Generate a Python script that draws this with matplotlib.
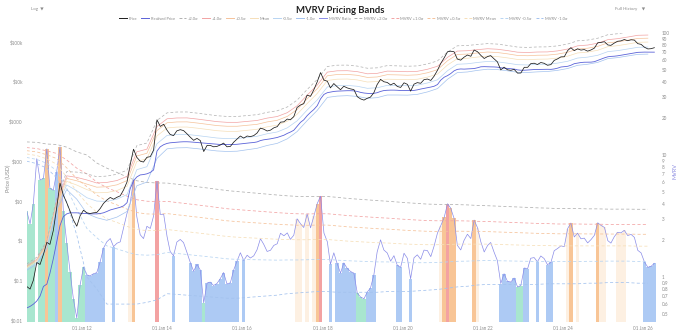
import numpy as np
import pandas as pd
import matplotlib
matplotlib.use('Agg')
import matplotlib.pyplot as plt
from matplotlib.lines import Line2D

plt.rcParams['font.family'] = ['Lato', 'DejaVu Sans']

""" Monthly series, Aug 2010 - Apr 2026 """

dates = pd.date_range('2010-08-01', periods=189, freq='MS') + pd.Timedelta(days=14)

price = [0.07, 0.06, 0.10, 0.28, 0.25,
         0.45, 0.9, 0.8, 1.8, 6.5, 28, 14, 9, 5.5, 3.3, 2.3, 4.2,
         5.8, 5.0, 4.8, 5.0, 5.1, 6.4, 8.6, 10.5, 12.2, 11.0, 12.3, 13.4,
         19, 30, 80, 200, 125, 100, 95, 125, 130, 190, 1100, 750,
         850, 600, 470, 440, 580, 620, 590, 490, 400, 335, 375, 330,
         175, 250, 250, 230, 235, 255, 285, 230, 235, 300, 360, 430,
         380, 430, 415, 440, 510, 680, 640, 575, 605, 690, 740, 960,
         980, 1150, 1100, 1320, 2250, 2600, 2800, 4600, 4300, 6300, 10000, 17000,
         11000, 10300, 7000, 9000, 7500, 6300, 7700, 7000, 6600, 6350, 4200, 3700,
         3450, 3850, 4100, 5300, 8500, 11500, 10000, 9600, 8300, 9200, 7600, 7200,
         9400, 8600, 5800, 8700, 9500, 9150, 11300, 11700, 10800, 13800, 19500, 29000,
         40000, 57000, 58800, 57000, 37300, 35000, 41500, 47100, 43800, 63000, 57000, 46300,
         38500, 43200, 45500, 37700, 31800, 19900, 23300, 20000, 19400, 20500, 16500, 16600,
         23100, 23100, 28500, 29300, 27200, 30500, 29200, 26000, 27000, 34500, 37700, 42300,
         42600, 61200, 72000, 60700, 67500, 62700, 64600, 59000, 63300, 70200, 96000, 98000,
         102000, 84400, 82500, 94200, 104600, 107100, 115800, 108200, 114000, 112000, 91000, 87500,
         74000, 67000, 68000, 72000]

realised = [0.02, 0.022, 0.025, 0.03, 0.04,
            0.07, 0.08, 0.15, 0.35, 0.9, 2.4, 4.0, 4.7, 5.0, 5.0, 5.0, 4.9,
            4.8, 4.8, 4.7, 4.7, 4.7, 4.8, 5.0, 5.4, 5.9, 6.2, 6.5, 6.9,
            7.5, 9, 20, 32, 40, 45, 46, 48, 52, 60, 180, 230,
            260, 280, 290, 295, 300, 305, 308, 308, 305, 300, 295, 290,
            285, 280, 275, 270, 266, 263, 262, 262, 262, 263, 266, 272,
            278, 285, 290, 295, 305, 330, 345, 355, 365, 380, 395, 420,
            450, 500, 540, 600, 750, 950, 1100, 1400, 1700, 2000, 2500, 3700,
            4800, 5300, 5500, 5700, 5800, 5850, 5900, 5950, 5950, 5900, 5700, 5400,
            5200, 5100, 5050, 5100, 5300, 5700, 6000, 6100, 6150, 6150, 6100, 6000,
            6000, 6050, 6000, 6050, 6250, 6550, 6800, 7100, 7350, 7700, 8500, 11000,
            13000, 14300, 16000, 18800, 20500, 21000, 20800, 21000, 21200, 21500, 22500, 23800,
            24000, 23800, 23700, 23600, 23300, 22500, 21900, 21700, 21300, 20900, 19900, 19500,
            19500, 19700, 20000, 20300, 20400, 20500, 20600, 20600, 20500, 21000, 22000, 23500,
            24000, 24500, 26000, 28500, 29500, 30500, 31000, 31000, 31200, 32000, 34500, 37000,
            40000, 42500, 43500, 44000, 45000, 46500, 48000, 49500, 51000, 53000, 55000, 55500,
            55800, 55800, 55700, 55600]

""" MVRV statistics, one value per quarter (every 3rd month of the series above) """

mvrv_mean = [10.2, 9.9, 9.3, 8.4, 6.6, 5.0, 4.0, 3.4, 3.0, 2.8,
             2.6, 2.45, 2.4, 2.4, 2.45, 2.4, 2.35, 2.3, 2.25, 2.2,
             2.15, 2.12, 2.1, 2.08, 2.06, 2.04, 2.03, 2.02, 2.02, 2.03,
             2.03, 2.0, 1.97, 1.95, 1.93, 1.91, 1.9, 1.88, 1.86, 1.85,
             1.84, 1.84, 1.85, 1.86, 1.86, 1.86, 1.86, 1.85, 1.84, 1.83,
             1.82, 1.81, 1.81, 1.8, 1.8, 1.8, 1.8, 1.8, 1.8, 1.8,
             1.8, 1.79, 1.79]
mvrv_sd = [1.3, 1.4, 1.5, 1.9, 2.5, 2.8, 3.0, 2.6, 2.4, 2.2,
           2.0, 1.85, 1.78, 1.75, 1.72, 1.68, 1.64, 1.6, 1.56, 1.52,
           1.48, 1.45, 1.42, 1.39, 1.36, 1.33, 1.3, 1.28, 1.27, 1.27,
           1.27, 1.25, 1.22, 1.2, 1.18, 1.16, 1.14, 1.12, 1.1, 1.08,
           1.06, 1.05, 1.04, 1.03, 1.02, 1.0, 0.99, 0.98, 0.97, 0.96,
           0.95, 0.94, 0.93, 0.92, 0.92, 0.92, 0.91, 0.91, 0.9, 0.9,
           0.9, 0.9, 0.9]

band_k = [2.0, 1.0, 0.5, 0.0, -0.5, -1.0]
band_names = ['+2.0σ', '+1.0σ', '+0.5σ', 'Mean', '-0.5σ', '-1.0σ']
band_colors = ['#b0b0b0', '#f2a3a3', '#f5c29a', '#f6dfb8', '#b7d4f2', '#a3c2ee']

tick_years = list(range(2012, 2027, 2))

price = np.array(price)
realised = np.array(realised)
mvrv = price / realised

qIdx = np.arange(len(dates)) // 3
meanM = np.array(mvrv_mean)[qIdx]
sdM = np.array(mvrv_sd)[qIdx]
qDates = dates[::3]
realisedQ = realised[::3]

""" Figure """

fig = plt.figure(figsize=(6.8, 3.36), dpi=100)
ax = fig.add_axes([0.0397, 0.0417, 0.9279, 0.8601])
ax2 = ax.twinx()
ax.set_zorder(ax2.get_zorder() + 1)
ax.patch.set_visible(False)

# zone fills under the MVRV ratio
zones = [(mvrv >= meanM + 2*sdM, '#f3a2a2'),
         ((mvrv >= meanM + sdM) & (mvrv < meanM + 2*sdM), '#f8c596'),
         ((mvrv >= meanM + 0.5*sdM) & (mvrv < meanM + sdM), '#fdf0e2'),
         ((mvrv < meanM - 0.5*sdM) & (mvrv >= meanM - sdM), '#adcaf4'),
         (mvrv < meanM - sdM, '#a8e6cf')]
floor = 0.3
for mask, col in zones:
    ax2.bar(dates[mask], mvrv[mask] - floor, bottom=floor, width=31,
            color=col, linewidth=0, align='center')

ax2.plot(dates, mvrv, color='#8a8ce8', linewidth=0.5)
for k, col in zip(band_k, band_colors):
    ax2.plot(qDates, np.array(mvrv_mean) + k*np.array(mvrv_sd), color=col,
             linewidth=0.55, linestyle=(0, (4, 3)))

# pricing bands
for k, col in zip(band_k, band_colors):
    ls = (0, (4, 3)) if k == 2.0 else '-'
    ax.plot(qDates, realisedQ*(np.array(mvrv_mean) + k*np.array(mvrv_sd)),
            color=col, linewidth=0.5, linestyle=ls)
ax.plot(dates, realised, color='#5a62d8', linewidth=0.6)
ax.plot(dates, price, color='#1c1c1c', linewidth=0.55)

ax.set_yscale('log')
ax.set_ylim(0.0089, 169000)
ax.set_yticks([0.01, 0.1, 1, 10, 100, 1000, 1e4, 1e5])
ax.set_yticklabels(['$0.01', '$0.1', '$1', '$10', '$100', '$1000', '$10k', '$100k'])
ax.minorticks_off()

ax2.set_yscale('log')
ax2.set_ylim(0.428, 100)
rTicks = [0.5, 0.6, 0.7, 0.8, 0.9, 1, 2, 3, 4, 5, 6, 7, 8, 9, 10,
          20, 30, 40, 50, 60, 70, 80, 90, 100]
ax2.set_yticks(rTicks)
ax2.set_yticklabels([('%g' % t) for t in rTicks])
ax2.yaxis.set_minor_locator(matplotlib.ticker.NullLocator())

ax.set_xlim(pd.Timestamp('2010-08-18'), pd.Timestamp('2026-05-18'))
ax.set_xticks([pd.Timestamp('%d-01-01' % y) for y in tick_years])
ax.set_xticklabels(['01 Jan %02d' % (y % 100) for y in tick_years])

for a in (ax, ax2):
    a.tick_params(length=0, labelsize=3.3, colors='#8c8c8c', pad=3)
    for s in a.spines.values():
        s.set_visible(False)

fig.text(0.013, 0.47, 'Price (USD)', rotation=90, ha='center', va='center',
         fontsize=4, color='#888888')
fig.text(0.992, 0.49, 'MVRV', rotation=90, ha='center', va='center',
         fontsize=4, color='#8a8ae0')

fig.text(0.5, 0.969, 'MVRV Pricing Bands', ha='center', va='center',
         fontsize=6.8, fontweight='bold', color='#222222')
fig.text(0.046, 0.972, 'Log  ▼', ha='left', va='center', fontsize=3.2, color='#8c8c8c')
fig.text(0.905, 0.972, 'Full History    ▼', ha='left', va='center', fontsize=3.2, color='#8c8c8c')

handles = [Line2D([], [], color='#1c1c1c', lw=0.7),
           Line2D([], [], color='#5a62d8', lw=0.7)]
labels = ['Price', 'Realised Price']
for k, name, col in zip(band_k, band_names, band_colors):
    handles.append(Line2D([], [], color=col, lw=0.7, ls=(0, (3, 2)) if k == 2.0 else '-'))
    labels.append(name)
handles.append(Line2D([], [], color='#8a8ce8', lw=0.7))
labels.append('MVRV Ratio')
for name, col in zip(band_names, band_colors):
    handles.append(Line2D([], [], color=col, lw=0.7, ls=(0, (3, 2))))
    labels.append('MVRV ' + name)
fig.legend(handles, labels, loc='center', bbox_to_anchor=(0.505, 0.944), ncol=len(labels),
           fontsize=2.9, frameon=False, handlelength=1.9, handletextpad=0.4,
           columnspacing=1.0, labelcolor='#888888')

fig.savefig('out.png', dpi=100)
